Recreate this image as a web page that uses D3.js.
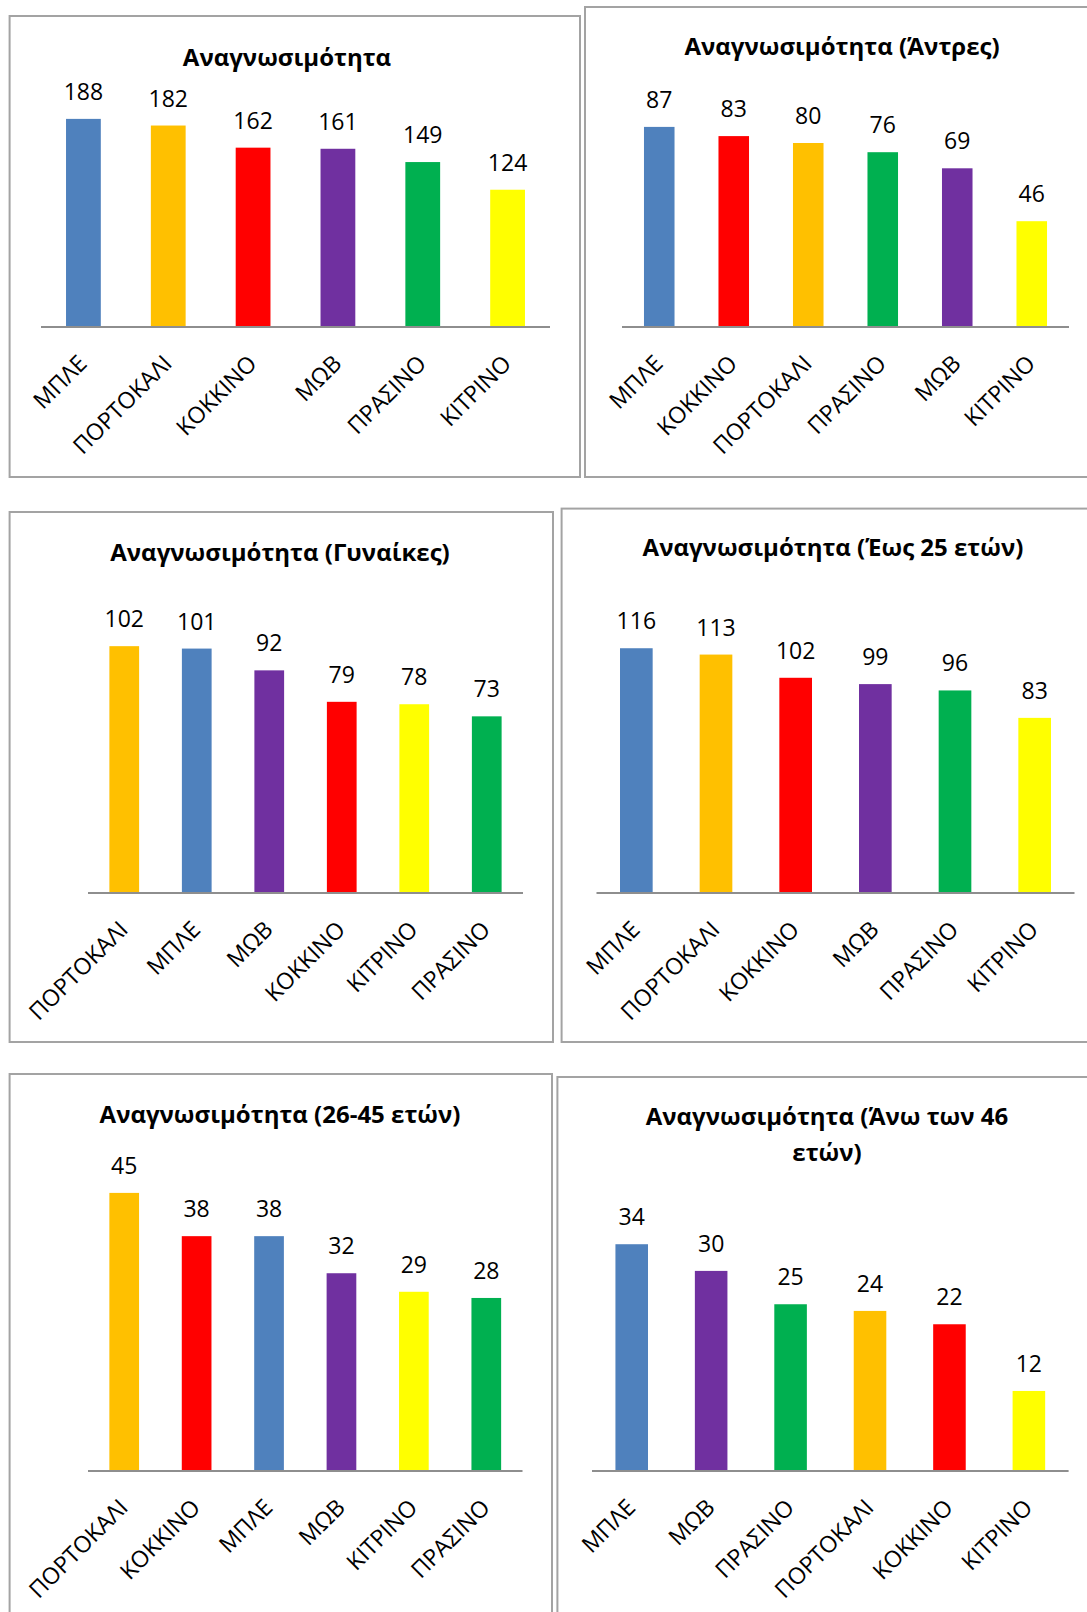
<!DOCTYPE html>
<html lang="el">
<head>
<meta charset="utf-8">
<title>Αναγνωσιμότητα</title>
<script src="https://cdn.jsdelivr.net/npm/d3@7"></script>
<style>
  html, body { margin: 0; padding: 0; background: #ffffff; }
  svg { display: block; }
  text { font-family: "Open Sans", "Noto Sans", sans-serif; fill: #000; }
</style>
</head>
<body>
<svg id="chart" width="1087" height="1612"></svg>
<script>
// ---- data -------------------------------------------------------------
const titles = [
  ["Αναγνωσιμότητα"],
  ["Αναγνωσιμότητα (Άντρες)"],
  ["Αναγνωσιμότητα (Γυναίκες)"],
  ["Αναγνωσιμότητα (Έως 25 ετών)"],
  ["Αναγνωσιμότητα (26-45 ετών)"],
  ["Αναγνωσιμότητα (Άνω των 46", "ετών)"]
];

const totalCats  = ["ΜΠΛΕ", "ΠΟΡΤΟΚΑΛΙ", "ΚΟΚΚΙΝΟ", "ΜΩΒ", "ΠΡΑΣΙΝΟ", "ΚΙΤΡΙΝΟ"];
const totalVals  = [188, 182, 162, 161, 149, 124];

const menCats    = ["ΜΠΛΕ", "ΚΟΚΚΙΝΟ", "ΠΟΡΤΟΚΑΛΙ", "ΠΡΑΣΙΝΟ", "ΜΩΒ", "ΚΙΤΡΙΝΟ"];
const menVals    = [87, 83, 80, 76, 69, 46];

const womenCats  = ["ΠΟΡΤΟΚΑΛΙ", "ΜΠΛΕ", "ΜΩΒ", "ΚΟΚΚΙΝΟ", "ΚΙΤΡΙΝΟ", "ΠΡΑΣΙΝΟ"];
const womenVals  = [102, 101, 92, 79, 78, 73];

const under25Cats = ["ΜΠΛΕ", "ΠΟΡΤΟΚΑΛΙ", "ΚΟΚΚΙΝΟ", "ΜΩΒ", "ΠΡΑΣΙΝΟ", "ΚΙΤΡΙΝΟ"];
const under25Vals = [116, 113, 102, 99, 96, 83];

const age2645Cats = ["ΠΟΡΤΟΚΑΛΙ", "ΚΟΚΚΙΝΟ", "ΜΠΛΕ", "ΜΩΒ", "ΚΙΤΡΙΝΟ", "ΠΡΑΣΙΝΟ"];
const age2645Vals = [45, 38, 38, 32, 29, 28];

const over46Cats = ["ΜΠΛΕ", "ΜΩΒ", "ΠΡΑΣΙΝΟ", "ΠΟΡΤΟΚΑΛΙ", "ΚΟΚΚΙΝΟ", "ΚΙΤΡΙΝΟ"];
const over46Vals = [34, 30, 25, 24, 22, 12];

// value-axis maximum of each chart
const axisMax = [200, 100, 120, 140, 50, 40];

// ---- styling ----------------------------------------------------------
const colourOf = {
  "ΜΠΛΕ": "#4F81BD",
  "ΠΟΡΤΟΚΑΛΙ": "#FFC000",
  "ΚΟΚΚΙΝΟ": "#FF0000",
  "ΜΩΒ": "#7030A0",
  "ΠΡΑΣΙΝΟ": "#00B050",
  "ΚΙΤΡΙΝΟ": "#FFFF00"
};

// frame box, plot extents and title position of each chart
const layouts = [
  { box: [9.6, 16, 580, 477],   x0: 41,  x1: 550,  base: 327,  top: 105.6,  tx: 287, ty: 66 },
  { box: [585, 7, 1100, 477],   x0: 622, x1: 1069, base: 327,  top: 97,     tx: 842, ty: 55 },
  { box: [9.6, 512, 553, 1042], x0: 88,  x1: 523,  base: 893,  top: 602.6,  tx: 280, ty: 561 },
  { box: [561.6, 508.6, 1100, 1042], x0: 596.5, x1: 1074.5, base: 893, top: 597.6, tx: 833, ty: 556 },
  { box: [9.6, 1074, 552, 1630], x0: 88, x1: 522.5, base: 1471, top: 1162, tx: 280, ty: 1123 },
  { box: [557.4, 1077, 1100, 1630], x0: 592, x1: 1068.6, base: 1471, top: 1204.2, tx: 827, ty: 1125 }
];

const series = [
  [totalCats, totalVals],
  [menCats, menVals],
  [womenCats, womenVals],
  [under25Cats, under25Vals],
  [age2645Cats, age2645Vals],
  [over46Cats, over46Vals]
];

const svg = d3.select("#chart");

series.forEach(([cats, vals], i) => {
  const L = layouts[i];
  const g = svg.append("g").attr("class", "panel");

  // chart frame
  g.append("rect")
    .attr("x", L.box[0]).attr("y", L.box[1])
    .attr("width", L.box[2] - L.box[0]).attr("height", L.box[3] - L.box[1])
    .attr("fill", "#fff").attr("stroke", "#a3a3a3").attr("stroke-width", 2);

  // title (one or two lines)
  const title = g.append("text")
    .attr("x", L.tx).attr("y", L.ty)
    .attr("text-anchor", "middle")
    .attr("font-size", 24).attr("font-weight", 700);
  titles[i].forEach((line, k) => {
    title.append("tspan").attr("x", L.tx).attr("dy", k === 0 ? 0 : 36).text(line);
  });

  const x = d3.scaleBand().domain(cats).range([L.x0, L.x1]).paddingInner(0.59).paddingOuter(0.295);
  const y = d3.scaleLinear().domain([0, axisMax[i]]).range([L.base, L.top]);

  const data = cats.map((c, k) => ({ cat: c, val: vals[k] }));

  // bars
  g.selectAll("rect.bar").data(data).join("rect")
    .attr("class", "bar")
    .attr("x", d => x(d.cat))
    .attr("y", d => y(d.val))
    .attr("width", x.bandwidth())
    .attr("height", d => y(0) - y(d.val))
    .attr("fill", d => colourOf[d.cat]);

  // value labels
  g.selectAll("text.val").data(data).join("text")
    .attr("class", "val")
    .attr("x", d => x(d.cat) + x.bandwidth() / 2)
    .attr("y", d => y(d.val) - 19)
    .attr("text-anchor", "middle")
    .attr("font-size", 23)
    .text(d => d.val);

  // category axis
  const axis = d3.axisBottom(x).tickSize(0).tickPadding(0);
  const ax = g.append("g").attr("transform", `translate(0,${L.base})`).call(axis);
  ax.select(".domain").attr("stroke", "#8e8e8e").attr("stroke-width", 2)
    .attr("d", `M${L.x0},0H${L.x1}`);
  ax.selectAll(".tick text")
    .attr("font-family", null)
    .attr("font-size", 23)
    .attr("fill", "#000")
    .attr("text-anchor", "end")
    .attr("dy", 0)
    .attr("y", 0)
    .attr("transform", "translate(5,38) rotate(-45)");
});
</script>
</body>
</html>
